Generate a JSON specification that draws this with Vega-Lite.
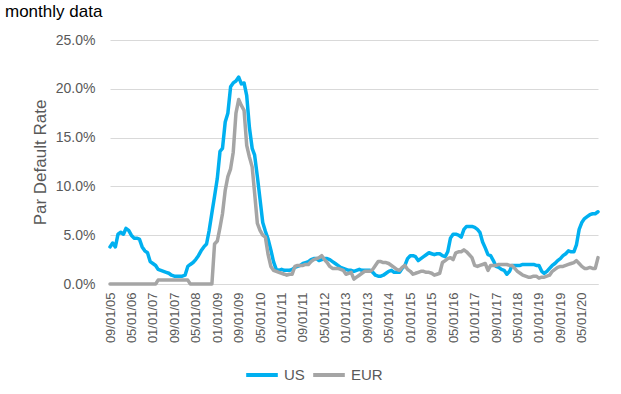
{
  "$schema": "https://vega.github.io/schema/vega-lite/v6.json",
  "width": 488,
  "height": 244,
  "autosize": {"type": "none"},
  "padding": {"left": 110, "top": 40, "right": 23, "bottom": 110},
  "config": {"view": {"stroke": null}, "font": "Liberation Sans"},
  "title": {"text": "monthly data", "anchor": "start", "frame": "group", "dx": -105, "offset": 12, "fontSize": 17, "fontWeight": "normal", "color": "#000000", "font": "Liberation Sans"},
  "data": {
    "format": {"parse": {"d": "date:'%Y-%m'"}},
    "values": [
      {"d":"2005-09","US":3.8,"EUR":0},{"d":"2005-10","US":4.2,"EUR":0},{"d":"2005-11","US":3.8,"EUR":0},{"d":"2005-12","US":5.1,"EUR":0},
      {"d":"2006-01","US":5.3,"EUR":0},{"d":"2006-02","US":5.1,"EUR":0},{"d":"2006-03","US":5.7,"EUR":0},{"d":"2006-04","US":5.5,"EUR":0},
      {"d":"2006-05","US":5.0,"EUR":0},{"d":"2006-06","US":4.7,"EUR":0},{"d":"2006-07","US":4.7,"EUR":0},{"d":"2006-08","US":4.6,"EUR":0},
      {"d":"2006-09","US":3.8,"EUR":0},{"d":"2006-10","US":3.4,"EUR":0},{"d":"2006-11","US":3.2,"EUR":0},{"d":"2006-12","US":2.3,"EUR":0},
      {"d":"2007-01","US":2.1,"EUR":0},{"d":"2007-02","US":1.9,"EUR":0},{"d":"2007-03","US":1.5,"EUR":0.4},{"d":"2007-04","US":1.4,"EUR":0.4},
      {"d":"2007-05","US":1.3,"EUR":0.4},{"d":"2007-06","US":1.2,"EUR":0.4},{"d":"2007-07","US":1.1,"EUR":0.4},{"d":"2007-08","US":0.9,"EUR":0.4},
      {"d":"2007-09","US":0.8,"EUR":0.4},{"d":"2007-10","US":0.8,"EUR":0.4},{"d":"2007-11","US":0.8,"EUR":0.4},{"d":"2007-12","US":0.8,"EUR":0.4},
      {"d":"2008-01","US":0.9,"EUR":0.4},{"d":"2008-02","US":1.8,"EUR":0.4},{"d":"2008-03","US":2.0,"EUR":0},{"d":"2008-04","US":2.2,"EUR":0},
      {"d":"2008-05","US":2.5,"EUR":0},{"d":"2008-06","US":2.9,"EUR":0},{"d":"2008-07","US":3.4,"EUR":0},{"d":"2008-08","US":3.8,"EUR":0},
      {"d":"2008-09","US":4.1,"EUR":0},{"d":"2008-10","US":5.5,"EUR":0},{"d":"2008-11","US":7.3,"EUR":0},{"d":"2008-12","US":9.0,"EUR":4.1},
      {"d":"2009-01","US":10.8,"EUR":4.4},{"d":"2009-02","US":13.6,"EUR":5.8},{"d":"2009-03","US":13.9,"EUR":7.2},{"d":"2009-04","US":16.6,"EUR":9.6},
      {"d":"2009-05","US":17.5,"EUR":11.0},{"d":"2009-06","US":20.2,"EUR":11.8},{"d":"2009-07","US":20.6,"EUR":13.5},{"d":"2009-08","US":20.8,"EUR":17.5},
      {"d":"2009-09","US":21.2,"EUR":18.9},{"d":"2009-10","US":20.5,"EUR":18.3},{"d":"2009-11","US":20.6,"EUR":17.8},{"d":"2009-12","US":19.3,"EUR":14.2},
      {"d":"2010-01","US":16.0,"EUR":13.0},{"d":"2010-02","US":13.9,"EUR":12.0},{"d":"2010-03","US":13.2,"EUR":9.3},{"d":"2010-04","US":11.0,"EUR":6.2},
      {"d":"2010-05","US":8.7,"EUR":5.5},{"d":"2010-06","US":6.3,"EUR":5.0},{"d":"2010-07","US":5.4,"EUR":4.8},{"d":"2010-08","US":4.6,"EUR":3.0},
      {"d":"2010-09","US":3.5,"EUR":1.8},{"d":"2010-10","US":2.3,"EUR":1.4},{"d":"2010-11","US":1.5,"EUR":1.3},{"d":"2010-12","US":1.4,"EUR":1.2},
      {"d":"2011-01","US":1.5,"EUR":1.1},{"d":"2011-02","US":1.4,"EUR":1.0},{"d":"2011-03","US":1.4,"EUR":0.9},{"d":"2011-04","US":1.4,"EUR":1.0},
      {"d":"2011-05","US":1.5,"EUR":1.0},{"d":"2011-06","US":1.7,"EUR":1.8},{"d":"2011-07","US":1.8,"EUR":1.9},{"d":"2011-08","US":1.9,"EUR":1.9},
      {"d":"2011-09","US":2.1,"EUR":1.9},{"d":"2011-10","US":2.2,"EUR":2.0},{"d":"2011-11","US":2.3,"EUR":2.0},{"d":"2011-12","US":2.5,"EUR":2.3},
      {"d":"2012-01","US":2.6,"EUR":2.5},{"d":"2012-02","US":2.6,"EUR":2.6},{"d":"2012-03","US":2.4,"EUR":2.7},{"d":"2012-04","US":2.5,"EUR":2.9},
      {"d":"2012-05","US":2.6,"EUR":2.5},{"d":"2012-06","US":2.6,"EUR":2.2},{"d":"2012-07","US":2.5,"EUR":1.8},{"d":"2012-08","US":2.3,"EUR":1.6},
      {"d":"2012-09","US":2.1,"EUR":1.6},{"d":"2012-10","US":1.9,"EUR":1.6},{"d":"2012-11","US":1.7,"EUR":1.5},{"d":"2012-12","US":1.6,"EUR":1.4},
      {"d":"2013-01","US":1.5,"EUR":1.0},{"d":"2013-02","US":1.4,"EUR":1.1},{"d":"2013-03","US":1.4,"EUR":1.2},{"d":"2013-04","US":1.3,"EUR":0.5},
      {"d":"2013-05","US":1.4,"EUR":0.7},{"d":"2013-06","US":1.5,"EUR":0.9},{"d":"2013-07","US":1.4,"EUR":1.1},{"d":"2013-08","US":1.4,"EUR":1.3},
      {"d":"2013-09","US":1.4,"EUR":1.3},{"d":"2013-10","US":1.4,"EUR":1.3},{"d":"2013-11","US":1.2,"EUR":1.5},{"d":"2013-12","US":0.9,"EUR":1.9},
      {"d":"2014-01","US":0.8,"EUR":2.3},{"d":"2014-02","US":0.8,"EUR":2.3},{"d":"2014-03","US":0.9,"EUR":2.2},{"d":"2014-04","US":1.1,"EUR":2.2},
      {"d":"2014-05","US":1.3,"EUR":2.1},{"d":"2014-06","US":1.4,"EUR":1.9},{"d":"2014-07","US":1.2,"EUR":1.7},{"d":"2014-08","US":1.2,"EUR":1.5},
      {"d":"2014-09","US":1.2,"EUR":1.4},{"d":"2014-10","US":1.6,"EUR":1.7},{"d":"2014-11","US":1.9,"EUR":1.9},{"d":"2014-12","US":2.6,"EUR":1.5},
      {"d":"2015-01","US":2.9,"EUR":1.3},{"d":"2015-02","US":2.9,"EUR":1.0},{"d":"2015-03","US":2.8,"EUR":1.1},{"d":"2015-04","US":2.4,"EUR":1.2},
      {"d":"2015-05","US":2.6,"EUR":1.3},{"d":"2015-06","US":2.8,"EUR":1.3},{"d":"2015-07","US":3.0,"EUR":1.2},{"d":"2015-08","US":3.2,"EUR":1.2},
      {"d":"2015-09","US":3.1,"EUR":1.1},{"d":"2015-10","US":3.0,"EUR":0.9},{"d":"2015-11","US":3.1,"EUR":1.0},{"d":"2015-12","US":3.1,"EUR":1.1},
      {"d":"2016-01","US":2.9,"EUR":2.2},{"d":"2016-02","US":2.8,"EUR":2.4},{"d":"2016-03","US":3.3,"EUR":2.6},{"d":"2016-04","US":4.7,"EUR":2.7},
      {"d":"2016-05","US":5.1,"EUR":2.5},{"d":"2016-06","US":5.1,"EUR":3.2},{"d":"2016-07","US":5.0,"EUR":3.3},{"d":"2016-08","US":4.8,"EUR":3.3},
      {"d":"2016-09","US":5.6,"EUR":3.5},{"d":"2016-10","US":5.9,"EUR":3.3},{"d":"2016-11","US":5.9,"EUR":3.0},{"d":"2016-12","US":5.9,"EUR":2.7},
      {"d":"2017-01","US":5.8,"EUR":1.9},{"d":"2017-02","US":5.6,"EUR":1.8},{"d":"2017-03","US":5.3,"EUR":1.9},{"d":"2017-04","US":4.3,"EUR":2.0},
      {"d":"2017-05","US":3.7,"EUR":2.1},{"d":"2017-06","US":3.0,"EUR":1.4},{"d":"2017-07","US":2.9,"EUR":1.9},{"d":"2017-08","US":2.4,"EUR":1.9},
      {"d":"2017-09","US":1.8,"EUR":1.9},{"d":"2017-10","US":1.7,"EUR":2.0},{"d":"2017-11","US":1.5,"EUR":2.0},{"d":"2017-12","US":1.4,"EUR":2.0},
      {"d":"2018-01","US":1.0,"EUR":2.0},{"d":"2018-02","US":1.3,"EUR":1.9},{"d":"2018-03","US":1.9,"EUR":1.9},{"d":"2018-04","US":1.9,"EUR":1.6},
      {"d":"2018-05","US":1.9,"EUR":1.3},{"d":"2018-06","US":1.9,"EUR":1.1},{"d":"2018-07","US":2.0,"EUR":0.9},{"d":"2018-08","US":2.0,"EUR":0.8},
      {"d":"2018-09","US":2.0,"EUR":0.7},{"d":"2018-10","US":2.0,"EUR":0.7},{"d":"2018-11","US":2.0,"EUR":0.8},{"d":"2018-12","US":1.9,"EUR":0.8},
      {"d":"2019-01","US":1.9,"EUR":0.6},{"d":"2019-02","US":1.3,"EUR":0.7},{"d":"2019-03","US":1.1,"EUR":0.7},{"d":"2019-04","US":1.3,"EUR":0.8},
      {"d":"2019-05","US":1.6,"EUR":0.9},{"d":"2019-06","US":1.9,"EUR":1.3},{"d":"2019-07","US":2.1,"EUR":1.5},{"d":"2019-08","US":2.4,"EUR":1.7},
      {"d":"2019-09","US":2.6,"EUR":1.8},{"d":"2019-10","US":2.9,"EUR":1.8},{"d":"2019-11","US":3.1,"EUR":1.9},{"d":"2019-12","US":3.4,"EUR":2.0},
      {"d":"2020-01","US":3.3,"EUR":2.1},{"d":"2020-02","US":3.3,"EUR":2.2},{"d":"2020-03","US":4.0,"EUR":2.4},{"d":"2020-04","US":5.6,"EUR":2.1},
      {"d":"2020-05","US":6.3,"EUR":1.8},{"d":"2020-06","US":6.7,"EUR":1.6},{"d":"2020-07","US":6.9,"EUR":1.6},{"d":"2020-08","US":7.1,"EUR":1.7},
      {"d":"2020-09","US":7.2,"EUR":1.6},{"d":"2020-10","US":7.2,"EUR":1.6},{"d":"2020-11","US":7.4,"EUR":2.7}
    ]
  },
  "transform": [{"fold": ["US", "EUR"], "as": ["series", "value"]}],
  "mark": {"type": "line", "strokeWidth": 3.5, "strokeCap": "round", "strokeJoin": "round"},
  "encoding": {
    "x": {
      "field": "d", "type": "temporal",
      "scale": {"domain": [{"year": 2005, "month": 9, "date": 1}, {"year": 2020, "month": 11, "date": 1}]},
      "axis": {
        "title": null, "grid": false, "ticks": false,
        "values": [
          {"year": 2005, "month": 9, "date": 1}, {"year": 2006, "month": 5, "date": 1}, {"year": 2007, "month": 1, "date": 1},
          {"year": 2007, "month": 9, "date": 1}, {"year": 2008, "month": 5, "date": 1}, {"year": 2009, "month": 1, "date": 1},
          {"year": 2009, "month": 9, "date": 1}, {"year": 2010, "month": 5, "date": 1}, {"year": 2011, "month": 1, "date": 1},
          {"year": 2011, "month": 9, "date": 1}, {"year": 2012, "month": 5, "date": 1}, {"year": 2013, "month": 1, "date": 1},
          {"year": 2013, "month": 9, "date": 1}, {"year": 2014, "month": 5, "date": 1}, {"year": 2015, "month": 1, "date": 1},
          {"year": 2015, "month": 9, "date": 1}, {"year": 2016, "month": 5, "date": 1}, {"year": 2017, "month": 1, "date": 1},
          {"year": 2017, "month": 9, "date": 1}, {"year": 2018, "month": 5, "date": 1}, {"year": 2019, "month": 1, "date": 1},
          {"year": 2019, "month": 9, "date": 1}, {"year": 2020, "month": 5, "date": 1}
        ],
        "format": "%m/%d/%y", "labelAngle": -90, "labelFontSize": 13, "labelColor": "#595959",
        "labelPadding": 8, "labelOverlap": false, "labelFlush": false, "domainColor": "#D9D9D9", "domainWidth": 1
      }
    },
    "y": {
      "field": "value", "type": "quantitative",
      "scale": {"domain": [0, 25], "nice": false},
      "axis": {
        "values": [0, 5, 10, 15, 20, 25],
        "labelExpr": "format(datum.value, '.1f') + '%'",
        "labelFontSize": 14, "labelColor": "#595959", "labelPadding": 15,
        "ticks": false, "domain": false, "gridColor": "#D9D9D9", "gridWidth": 1,
        "title": "Par Default Rate", "titleFontSize": 17, "titleFontWeight": "normal", "titleColor": "#595959",
        "titleX": -65, "titleY": 122, "titleAngle": -90, "titleAlign": "center", "titleBaseline": "alphabetic"
      }
    },
    "color": {
      "field": "series", "type": "nominal",
      "scale": {"domain": ["US", "EUR"], "range": ["#00B0F0", "#A5A5A5"]},
      "legend": {
        "orient": "none", "legendX": 134, "legendY": 317, "direction": "horizontal", "title": null,
        "symbolType": "stroke", "symbolSize": 1000, "symbolStrokeWidth": 4,
        "labelFontSize": 15, "labelColor": "#595959", "labelOffset": 4, "columnPadding": 0
      }
    }
  }
}
